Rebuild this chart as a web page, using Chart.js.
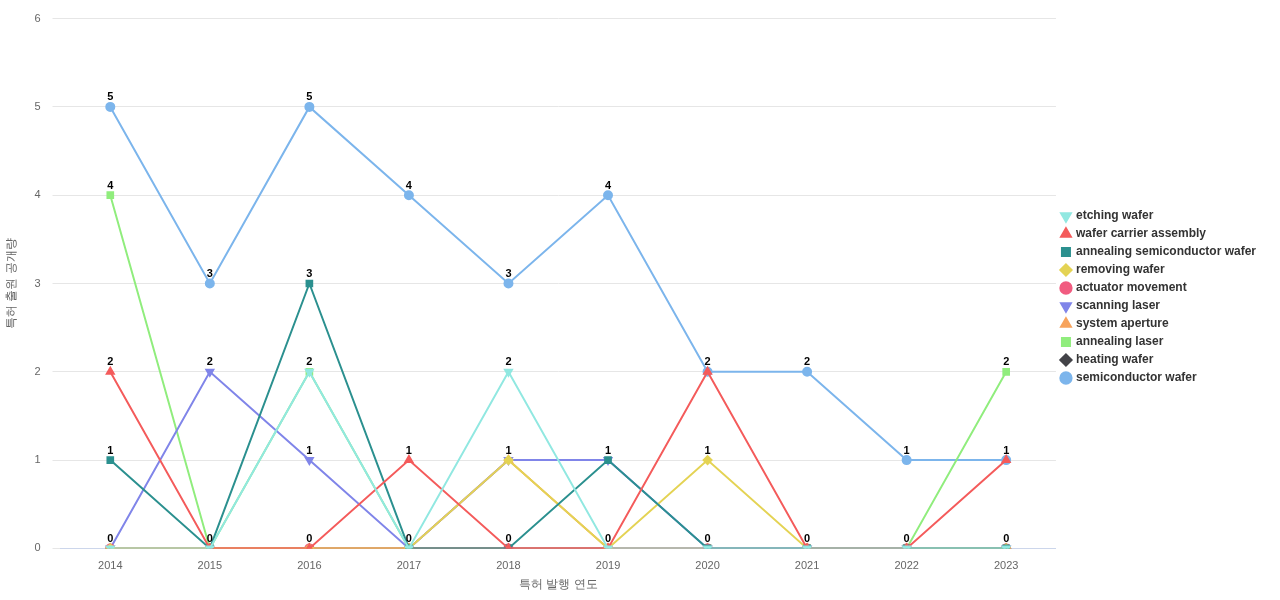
<!DOCTYPE html>
<html>
<head>
<meta charset="utf-8">
<script src="https://cdn.jsdelivr.net/npm/chart.js@4"></script>
<style>
  html, body { margin: 0; background: #fff; }
  #wrap { width: 1280px; height: 600px; }
</style>
</head>
<body>
<div id="wrap"><canvas id="c"></canvas></div>
<script>
// ─── DATA ───
const YEARS = ['2014', '2015', '2016', '2017', '2018', '2019', '2020', '2021', '2022', '2023'];
const semiconductorWafer = [5, 3, 5, 4, 3, 4, 2, 2, 1, 1];
const heatingWafer = [0, 0, 0, 0, 0, 0, 0, 0, 0, 0];
const annealingLaser = [4, 0, 2, 0, 0, 0, 0, 0, 0, 2];
const systemAperture = [0, 0, 0, 0, 1, 0, 0, 0, 0, 0];
const scanningLaser = [0, 2, 1, 0, 1, 1, 0, 0, 0, 0];
const actuatorMovement = [0, 0, 0, 0, 0, 0, 0, 0, 0, 0];
const removingWafer = [0, 0, 0, 0, 1, 0, 1, 0, 0, 0];
const annealingSemiWafer = [1, 0, 3, 0, 0, 1, 0, 0, 0, 0];
const waferCarrier = [2, 0, 0, 1, 0, 0, 2, 0, 0, 1];
const etchingWafer = [0, 0, 2, 0, 2, 0, 0, 0, 0, 0];

// label, data, colour, point style, rotation
const SERIES = [
  ['semiconductor wafer', semiconductorWafer, '#7cb5ec', 'circle', 0],
  ['heating wafer', heatingWafer, '#434348', 'rectRot', 0],
  ['annealing laser', annealingLaser, '#90ed7d', 'rect', 0],
  ['system aperture', systemAperture, '#f7a35c', 'triangle', 0],
  ['scanning laser', scanningLaser, '#8085e9', 'triangle', 180],
  ['actuator movement', actuatorMovement, '#f15c80', 'circle', 0],
  ['removing wafer', removingWafer, '#e4d354', 'rectRot', 0],
  ['annealing semiconductor wafer', annealingSemiWafer, '#2b908f', 'rect', 0],
  ['wafer carrier assembly', waferCarrier, '#f45b5b', 'triangle', 0],
  ['etching wafer', etchingWafer, '#91e8e1', 'triangle', 180],
];

// draw value labels once per x/value position
const valueLabels = {
  id: 'valueLabels',
  afterDatasetsDraw(chart) {
    const ctx = chart.ctx;
    const seen = new Set();
    ctx.save();
    ctx.font = 'bold 11px "Liberation Sans", Arial, sans-serif';
    ctx.fillStyle = '#000';
    ctx.textAlign = 'center';
    ctx.textBaseline = 'bottom';
    chart.data.datasets.forEach((ds, i) => {
      chart.getDatasetMeta(i).data.forEach((pt, j) => {
        const key = j + ':' + ds.data[j];
        if (seen.has(key)) return;
        seen.add(key);
        ctx.fillText(ds.data[j], pt.x, pt.y - 4);
      });
    });
    ctx.restore();
  },
};

new Chart(document.getElementById('c'), {
  type: 'line',
  data: {
    labels: YEARS,
    datasets: SERIES.map(([label, data, color, style, rot], i) => ({
      label, data, order: SERIES.length - i,
      borderColor: color, backgroundColor: color,
      borderWidth: 2, tension: 0,
      pointStyle: style, pointRotation: rot, pointRadius: 4, pointHoverRadius: 6,
    })),
  },
  options: {
    responsive: true, maintainAspectRatio: false, animation: false,
    layout: { padding: { top: 0, right: 14, bottom: 6 } },
    plugins: {
      legend: {
        position: 'right',
        labels: {
          usePointStyle: true, boxWidth: 8, boxHeight: 8, padding: 6,
          color: '#333', font: { size: 12, weight: 'bold' },
        },
      },
      tooltip: { enabled: true },
    },
    scales: {
      x: {
        offset: true,
        title: { display: true, text: '특허 발행 연도', color: '#666', font: { size: 12 }, padding: 2 },
        grid: { display: false },
        border: { color: '#ccd6eb' },
        ticks: { color: '#666', font: { size: 11 } },
      },
      y: {
        min: 0, max: 6,
        title: { display: true, text: '특허 출원 공개량', color: '#666', font: { size: 12 } },
        grid: { color: '#e6e6e6' },
        border: { display: false },
        ticks: { stepSize: 1, color: '#666', font: { size: 11 }, padding: 12 },
      },
    },
  },
  plugins: [valueLabels],
});
</script>
</body>
</html>
